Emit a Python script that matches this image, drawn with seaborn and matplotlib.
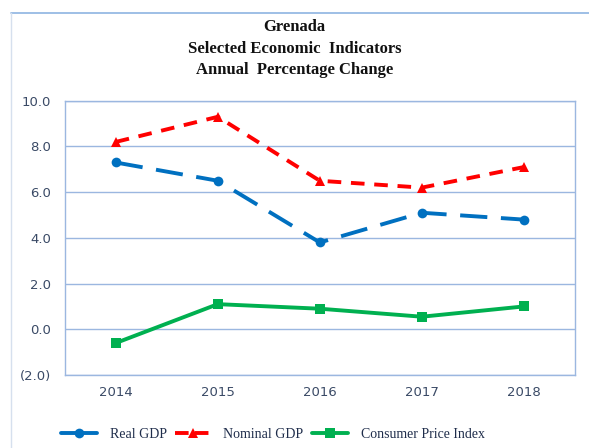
import numpy as np
import pandas as pd
import matplotlib
matplotlib.use("Agg")
import matplotlib.pyplot as plt
import matplotlib.ticker as mticker
from matplotlib.lines import Line2D
import seaborn as sns

# =============================
# Données
# =============================
years = ["2014", "2015", "2016", "2017", "2018"]
real_gdp = [7.3, 6.5, 3.8, 5.1, 4.8]
nominal_gdp = [8.2, 9.3, 6.5, 6.2, 7.1]
cpi = [-0.6, 1.1, 0.9, 0.55, 1.0]

series_names = ["Real GDP", "Nominal GDP", "Consumer Price Index"]
y_ticks = [-2.0, 0.0, 2.0, 4.0, 6.0, 8.0, 10.0]

df = pd.DataFrame({
    "year": years * 3,
    "value": real_gdp + nominal_gdp + cpi,
    "series": [s for s in series_names for _ in years],
})

sns.set_theme(style="white")

fig = plt.figure(figsize=(5.89, 4.48), dpi=100)
ax = fig.add_axes([0.110, 0.163, 0.866, 0.612])

colors = {"Real GDP": "#0070c0", "Nominal GDP": "#ff0000",
          "Consumer Price Index": "#00b050"}
markers = {"Real GDP": "o", "Nominal GDP": "^", "Consumer Price Index": "s"}
dashes = {"Real GDP": (7, 3.5), "Nominal GDP": (3.5, 2.5),
          "Consumer Price Index": ""}

sns.lineplot(data=df, x="year", y="value", hue="series", style="series",
             palette=colors, markers=markers, dashes=dashes,
             linewidth=2.8, markersize=7, markeredgewidth=0,
             legend=False, ax=ax, sort=False)

grid_col = "#9bb7e0"
ax.set_xlim(-0.5, 4.5)
ax.set_ylim(-2.0, 10.0)
ax.set_yticks(y_ticks)
ax.yaxis.set_major_formatter(mticker.FuncFormatter(
    lambda v, p: f"({abs(v):.1f})" if v < 0 else f"{v:.1f}"))
ax.grid(axis="y", color=grid_col, linewidth=1)
ax.set_axisbelow(True)
for s in ax.spines.values():
    s.set_color(grid_col)
    s.set_linewidth(1)
ax.set_xlabel("")
ax.set_ylabel("")
ax.tick_params(axis="both", length=0, colors="#3a4a66", pad=8)
ax.tick_params(axis="y", pad=10)
for lbl in ax.get_xticklabels() + ax.get_yticklabels():
    lbl.set_fontfamily("DejaVu Sans")
    lbl.set_fontsize(9.5)

fig.text(0.50, 0.958, "Grenada\nSelected Economic  Indicators\nAnnual  Percentage Change",
         ha="center", va="top", fontsize=12, fontweight="bold",
         family="Liberation Serif", linespacing=1.48, color="#111111")

# cadre extérieur
fig.add_artist(Line2D([0.019, 1.0], [0.971, 0.971], transform=fig.transFigure,
                      color="#8db4e2", linewidth=1.2))
fig.add_artist(Line2D([0.019, 0.019], [0.0, 0.971], transform=fig.transFigure,
                      color="#d6e0ee", linewidth=1.0))

handles = []
for n in series_names:
    h = Line2D([], [], color=colors[n], marker=markers[n], linewidth=2.8,
               markersize=7, markeredgewidth=0)
    if n == "Nominal GDP":
        h.set_dashes((3.5, 1.6))
    handles.append(h)
leg = fig.legend(handles, series_names, loc="lower center",
                 bbox_to_anchor=(0.463, -0.012), ncol=3, frameon=False,
                 prop={"family": "Liberation Serif", "size": 10},
                 handlelength=2.6, columnspacing=0.6, handletextpad=0.9)
for t in leg.get_texts():
    t.set_color("#1f2d4b")

fig.savefig("out.png", dpi=100)
